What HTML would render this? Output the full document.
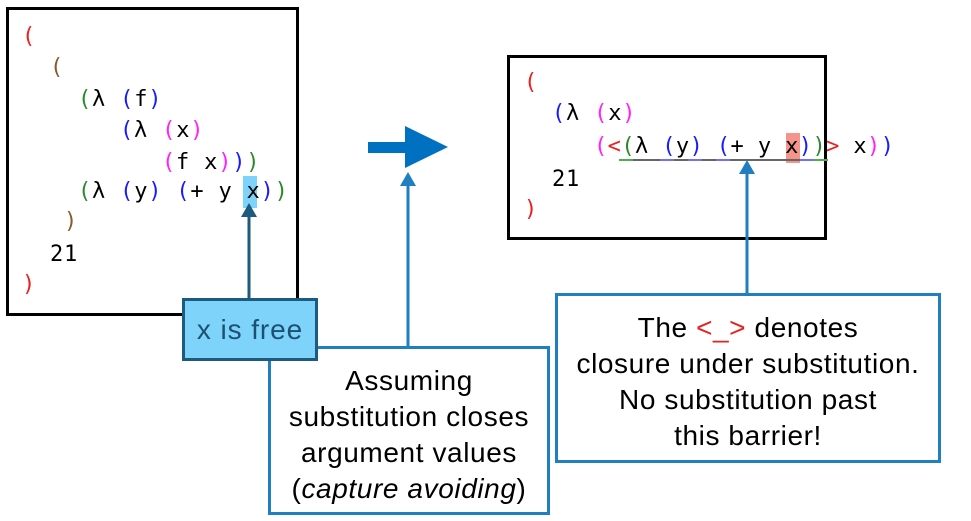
<!DOCTYPE html>
<html><head><meta charset="utf-8"><style>
body{margin:0;width:971px;height:521px;background:#fff;position:relative;overflow:hidden;font-family:"Liberation Sans",sans-serif}
.c{position:absolute;font-family:"DejaVu Sans Mono","Liberation Mono",monospace;font-size:22px;line-height:30px;letter-spacing:0.8px;white-space:pre;color:#000}
.r{color:#e82020}.b{color:#8b5a2b}.g{color:#2a8a2a}.u{color:#1a1aff}.m{color:#ff22ff}
.box{position:absolute;box-sizing:border-box;text-align:center;font-size:28px;letter-spacing:0.9px;line-height:36px;color:#000}
</style></head><body>
<svg width="971" height="521" style="position:absolute;left:0;top:0">
<rect x="7.5" y="8.5" width="290" height="306" fill="none" stroke="#000" stroke-width="3"/>
<rect x="508.5" y="56.5" width="317" height="182" fill="none" stroke="#000" stroke-width="3"/>
<rect x="243" y="176" width="14" height="32" fill="#7dd3fa"/>
<rect x="786" y="133" width="14" height="30" fill="#f4948a"/>
<line x1="619" y1="160" x2="828" y2="160" stroke="#666" stroke-width="2"/>
<line x1="619" y1="160" x2="633" y2="160" stroke="#4caf50" stroke-width="2"/>
<line x1="814" y1="160" x2="828" y2="160" stroke="#4caf50" stroke-width="2"/>
<line x1="660" y1="160" x2="674" y2="160" stroke="#7070ff" stroke-width="2"/>
<line x1="688" y1="160" x2="702" y2="160" stroke="#7070ff" stroke-width="2"/>
<line x1="716" y1="160" x2="730" y2="160" stroke="#7070ff" stroke-width="2"/>
<line x1="800" y1="160" x2="814" y2="160" stroke="#7070ff" stroke-width="2"/>
<polygon points="368,142 405,142 405,126 448,147 405,168 405,153 368,153" fill="#0070c0"/>
<line x1="249" y1="298" x2="249" y2="215" stroke="#1d5a80" stroke-width="3"/>
<polygon points="241,217 257,217 249,203" fill="#1d5a80"/>
<line x1="408" y1="346" x2="408" y2="184" stroke="#1f7fc0" stroke-width="3"/>
<polygon points="400,186 416,186 408,172" fill="#1f7fc0"/>
<line x1="747" y1="293" x2="747" y2="172" stroke="#1f7fc0" stroke-width="3"/>
<polygon points="739,174 755,174 747,160" fill="#1f7fc0"/>
</svg>
<div class="c" style="left:22px;top:22px"><span class="r">(</span></div>
<div class="c" style="left:50px;top:53px"><span class="b">(</span></div>
<div class="c" style="left:78px;top:85px"><span class="g">(</span>λ <span class="u">(</span>f<span class="u">)</span></div>
<div class="c" style="left:120px;top:116px"><span class="u">(</span>λ <span class="m">(</span>x<span class="m">)</span></div>
<div class="c" style="left:162px;top:148px"><span class="m">(</span>f x<span class="m">)</span><span class="u">)</span><span class="g">)</span></div>
<div class="c" style="left:78px;top:177px"><span class="g">(</span>λ <span class="u">(</span>y<span class="u">)</span> <span class="u">(</span>+ y x<span class="u">)</span><span class="g">)</span></div>
<div class="c" style="left:64px;top:207px"><span class="b">)</span></div>
<div class="c" style="left:50px;top:240px">21</div>
<div class="c" style="left:22px;top:270px"><span class="r">)</span></div>

<div class="c" style="left:524px;top:68px"><span class="r">(</span></div>
<div class="c" style="left:552px;top:99px"><span class="u">(</span>λ <span class="m">(</span>x<span class="m">)</span></div>
<div class="c" style="left:594px;top:132px;letter-spacing:0.4px"><span class="m">(</span><span class="r">&lt;</span><span class="g">(</span>λ <span class="u">(</span>y<span class="u">)</span> <span class="u">(</span>+ y x<span class="u">)</span><span class="g">)</span><span class="r">&gt;</span> x<span class="m">)</span><span class="u">)</span></div>
<div class="c" style="left:552px;top:165px">21</div>
<div class="c" style="left:524px;top:195px"><span class="r">)</span></div>

<div class="box" style="left:268px;top:346px;width:282px;height:169px;border:3px solid #1f7fc0;padding-top:14px;background:#fff;letter-spacing:0.6px">Assuming<br>substitution closes<br>argument values<br>(<i>capture avoiding</i>)</div>
<div class="box" style="left:182px;top:298px;width:136px;height:63px;border:3px solid #1d5a80;background:#7dd3fa;color:#1d4f72;line-height:57px;font-size:28px">x is free</div>
<div class="box" style="left:555px;top:293px;width:386px;height:170px;border:3px solid #1f7fc0;padding-top:14px;background:#fff;letter-spacing:0.6px">The <span style="color:#e82020">&lt;_&gt;</span> denotes<br>closure under substitution.<br>No substitution past<br>this barrier!</div>
</body></html>
